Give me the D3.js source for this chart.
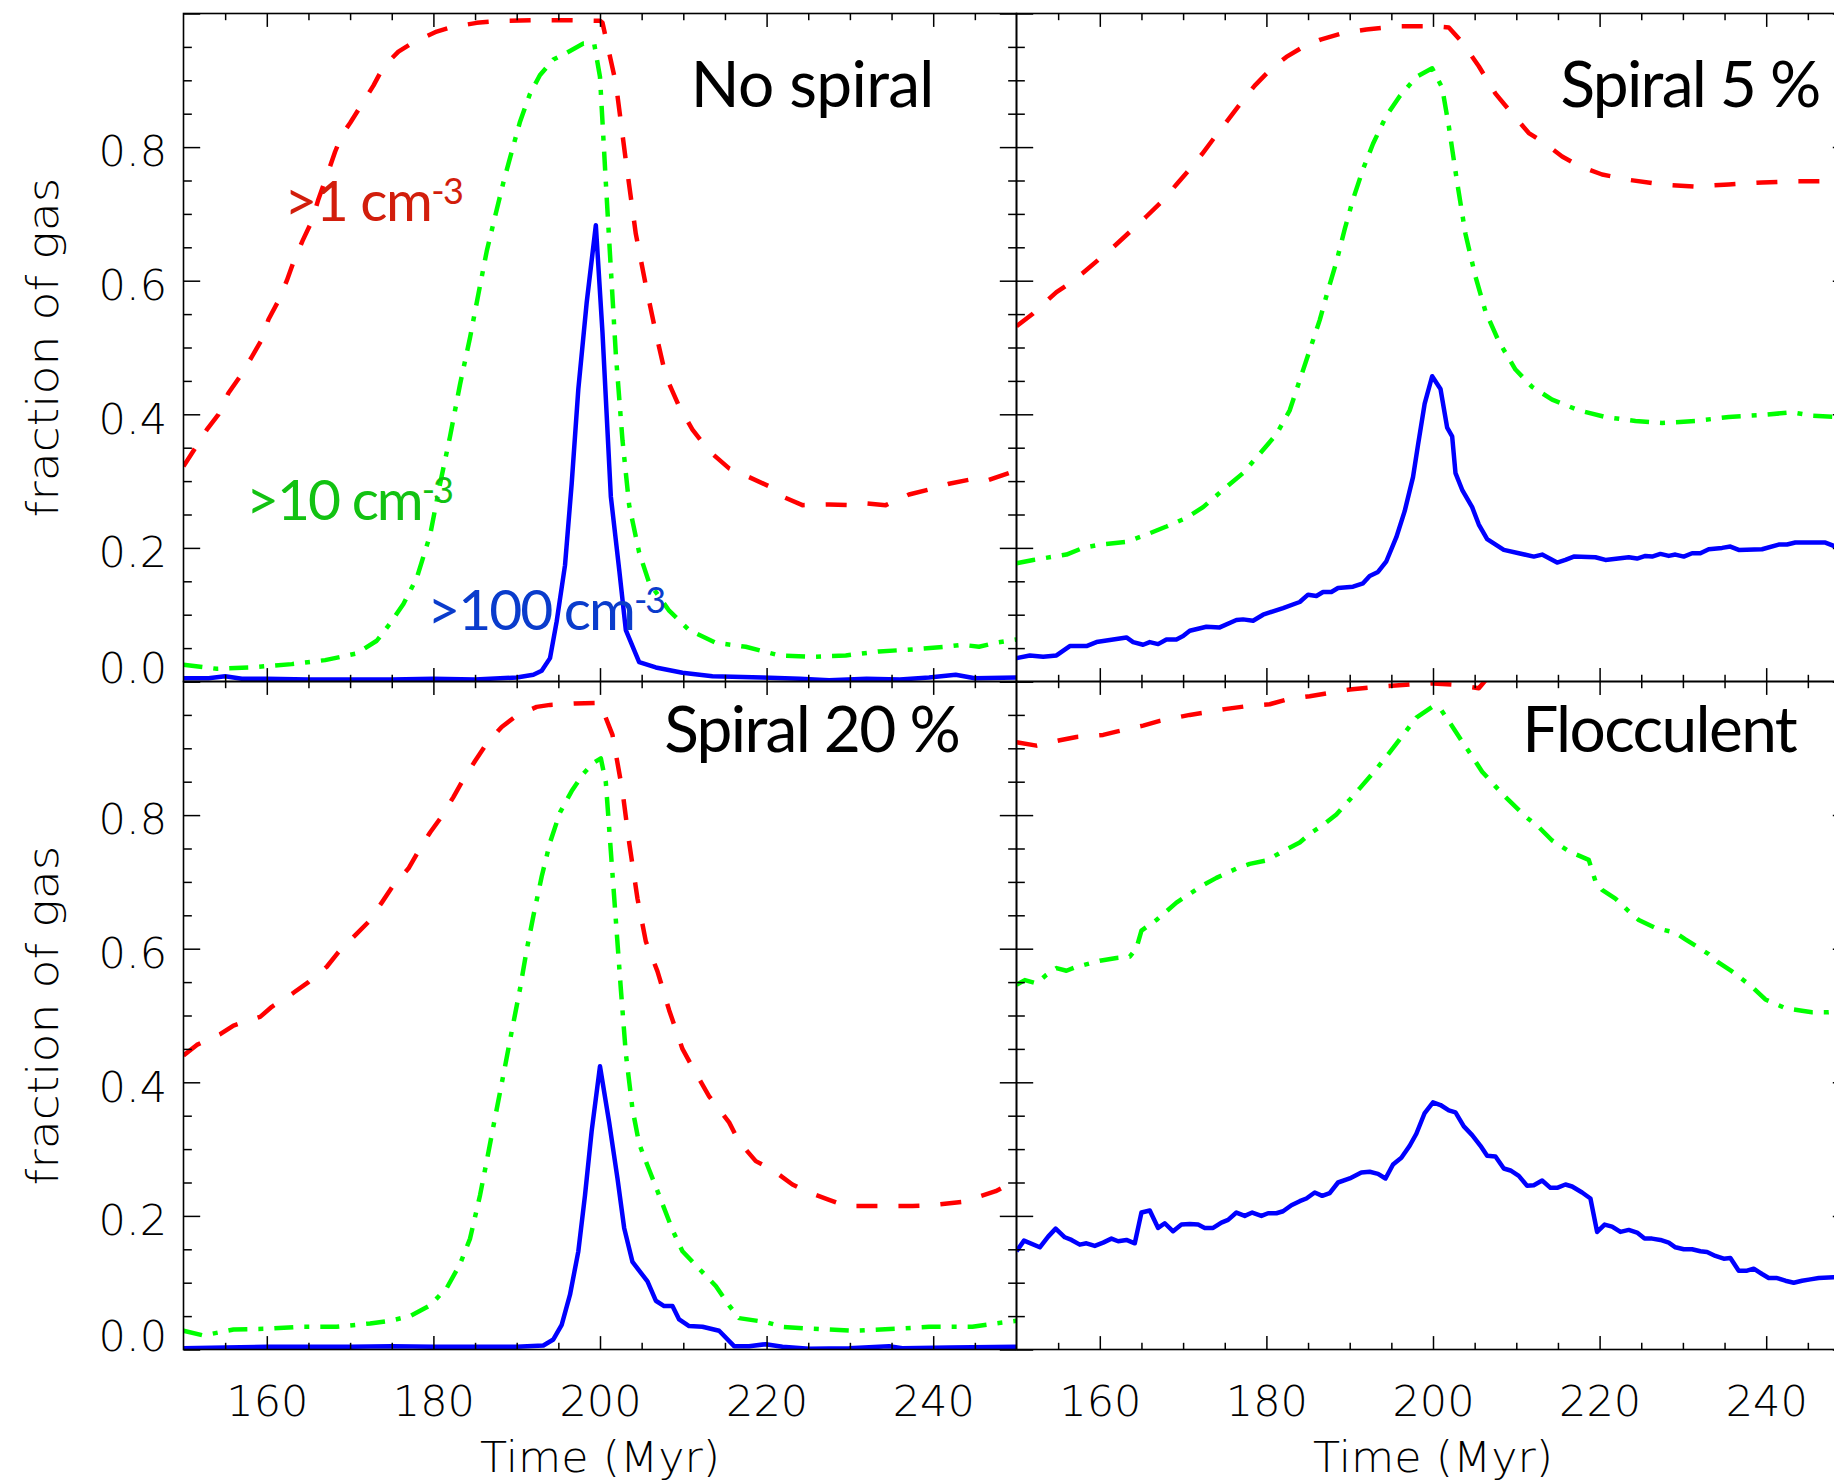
<!DOCTYPE html>
<html><head><meta charset="utf-8">
<script src="https://cdn.jsdelivr.net/npm/d3@7"></script>
<style>
html,body{margin:0;padding:0;background:#fff;overflow:hidden}
</style></head><body>
<svg id="chart" width="1834" height="1484" xmlns="http://www.w3.org/2000/svg"></svg>
<script>
// ---------------- DATA ----------------
const xTickLabels = [160, 180, 200, 220, 240];
const yTickLabels = [0.0, 0.2, 0.4, 0.6, 0.8];
const panelTitles = ["No spiral", "Spiral 5 %", "Spiral 20 %", "Flocculent"];
const thresholdLabels = [">1 cm", ">10 cm", ">100 cm"];
const xAxisTitle = "Time (Myr)";
const yAxisTitle = "fraction of gas";

// [time (Myr), fraction]
const noSpiral_gt1 = [[150,0.322],[152.8,0.377],[154.2,0.40],[155.4,0.432],[156.8,0.457],[158.2,0.486],[159.4,0.512],[160.2,0.542],[161.4,0.570],[162.4,0.600],[163.2,0.628],[164.3,0.660],[165.4,0.689],[166.2,0.722],[167.2,0.757],[168.2,0.793],[169,0.818],[170,0.836],[171.2,0.86],[172.8,0.892],[174,0.92],[175.8,0.943],[177.6,0.957],[180.4,0.973],[182,0.979],[185.2,0.986],[188,0.989],[192,0.99],[196,0.99],[200,0.989],[200.3,0.986],[201.9,0.896],[203.1,0.78],[204.3,0.67],[205.5,0.593],[206.7,0.522],[207.9,0.457],[209.5,0.412],[211.1,0.377],[213.1,0.345],[215.5,0.319],[217.9,0.306],[220.7,0.29],[221.9,0.277],[224.3,0.264],[227.5,0.265],[229.9,0.264],[231.5,0.267],[234.3,0.264],[237.1,0.28],[240.3,0.29],[241.9,0.296],[244.7,0.303],[246.3,0.30],[250,0.316]];
const noSpiral_gt10 = [[150,0.025],[154,0.019],[158,0.021],[163,0.026],[167,0.032],[170.8,0.042],[173.2,0.061],[174.8,0.087],[176.4,0.116],[178,0.155],[179.6,0.219],[180.8,0.296],[182,0.367],[183.2,0.445],[184.4,0.515],[185.4,0.58],[186.4,0.644],[187.4,0.696],[188.4,0.747],[189.4,0.793],[190.4,0.838],[191.6,0.88],[192.8,0.908],[194.4,0.931],[196,0.941],[198,0.955],[199.3,0.955],[200,0.905],[200.7,0.747],[201.3,0.618],[201.9,0.49],[202.7,0.361],[203.5,0.264],[204.7,0.193],[205.9,0.148],[208.3,0.106],[210.7,0.077],[213.9,0.058],[217.5,0.052],[221.5,0.039],[225.5,0.037],[229.5,0.039],[233.5,0.045],[237.5,0.048],[241.5,0.052],[243.5,0.055],[245.5,0.052],[247.5,0.058],[250,0.063]];
const noSpiral_gt100 = [[150,0.005],[153,0.005],[155,0.008],[157,0.004],[160,0.004],[165,0.003],[170,0.003],[175,0.003],[180,0.004],[185,0.003],[190,0.006],[192,0.01],[193,0.016],[194,0.035],[194.8,0.09],[195.8,0.174],[196.6,0.296],[197.4,0.438],[198.4,0.567],[199.5,0.683],[200.3,0.522],[201.3,0.277],[202.3,0.168],[203.1,0.077],[204.7,0.029],[206.7,0.021],[209.9,0.013],[213.5,0.008],[219.5,0.006],[224,0.004],[227.5,0.002],[232,0.004],[236,0.003],[239.5,0.006],[242.7,0.01],[245,0.005],[250,0.006]];

const spiral5_gt1 = [[150,0.532],[152,0.551],[154.8,0.583],[156,0.593],[158,0.612],[159.8,0.631],[161.6,0.65],[163.6,0.673],[165.5,0.695],[167.4,0.718],[169.2,0.744],[170.8,0.767],[172.3,0.79],[173.8,0.815],[175.6,0.844],[177,0.867],[178.6,0.892],[180.4,0.915],[182.4,0.935],[184.4,0.95],[186.5,0.961],[189,0.97],[192,0.976],[196,0.981],[200,0.981],[201.9,0.979],[203.5,0.957],[205.5,0.921],[207.5,0.88],[209.5,0.85],[211.5,0.821],[213.5,0.805],[215.5,0.786],[217.5,0.772],[220.3,0.759],[223.5,0.751],[227.5,0.744],[231.5,0.741],[235.5,0.744],[239.5,0.747],[243.5,0.749],[248,0.749],[250,0.747]];
const spiral5_gt10 = [[150,0.177],[152,0.182],[156,0.19],[158,0.2],[160,0.205],[163.2,0.209],[165.2,0.218],[168,0.232],[170.4,0.245],[172.4,0.261],[174.8,0.287],[177.2,0.312],[179.2,0.341],[181.2,0.37],[182.8,0.406],[184,0.451],[185.2,0.496],[186.4,0.541],[187.4,0.586],[188.4,0.628],[189.4,0.677],[190.4,0.722],[191.6,0.767],[192.8,0.805],[194.4,0.847],[196,0.876],[198,0.905],[199.9,0.918],[201.1,0.889],[201.9,0.831],[202.9,0.747],[203.9,0.67],[205.1,0.606],[206.3,0.554],[207.9,0.509],[209.9,0.467],[211.9,0.441],[214.3,0.422],[217.5,0.406],[220.7,0.396],[224.3,0.39],[227.5,0.387],[231.5,0.39],[235.5,0.396],[239.5,0.399],[243.1,0.403],[245.5,0.398],[250,0.395]];
const spiral5_gt100 = [[150,0.035],[151.6,0.039],[153.2,0.037],[154.8,0.039],[156.4,0.053],[158.4,0.053],[159.6,0.059],[161.2,0.062],[163.2,0.066],[164,0.059],[165.2,0.055],[166,0.059],[167,0.056],[168,0.063],[169.2,0.063],[170,0.068],[170.8,0.076],[172.8,0.082],[174.4,0.081],[176.4,0.092],[177.2,0.093],[178.4,0.091],[179.6,0.1],[182,0.11],[184,0.119],[185,0.13],[186,0.128],[186.8,0.134],[187.8,0.134],[188.6,0.14],[190.4,0.142],[191.6,0.147],[192.4,0.158],[193.4,0.164],[194.4,0.18],[195.6,0.216],[196.6,0.255],[197.6,0.306],[198.2,0.354],[199,0.416],[199.9,0.457],[200.9,0.438],[201.7,0.38],[202.3,0.367],[202.7,0.312],[203.5,0.287],[204.7,0.261],[205.5,0.235],[206.5,0.213],[208.5,0.197],[210.3,0.192],[212.1,0.187],[213.1,0.19],[214.9,0.178],[215.9,0.182],[216.9,0.187],[219.5,0.186],[220.7,0.182],[223.5,0.186],[224.5,0.184],[225.5,0.188],[226.3,0.187],[227.3,0.191],[228.3,0.188],[229.1,0.19],[230.1,0.187],[231.1,0.192],[232.1,0.192],[233.1,0.198],[234.7,0.2],[235.7,0.202],[236.7,0.197],[239.5,0.198],[241.5,0.205],[242.5,0.205],[243.5,0.208],[245.1,0.208],[247.1,0.208],[248.1,0.203],[250,0.2]];

const spiral20_gt1 = [[150,0.44],[151.6,0.456],[154.4,0.472],[156,0.485],[159.2,0.498],[160.6,0.513],[163.2,0.534],[165,0.55],[167.2,0.573],[168.6,0.595],[170.6,0.62],[172.2,0.64],[173.8,0.669],[175.2,0.695],[177,0.72],[178.2,0.746],[179.6,0.774],[181,0.798],[182.4,0.827],[183.4,0.849],[185,0.881],[186.4,0.907],[188.2,0.932],[190,0.949],[192.4,0.962],[194,0.965],[197,0.967],[200,0.968],[201.5,0.92],[202.7,0.836],[203.5,0.759],[204.5,0.675],[205.5,0.611],[206.9,0.566],[208.3,0.508],[209.9,0.45],[211.3,0.418],[213.1,0.379],[215.5,0.34],[216.7,0.311],[218.7,0.282],[220.7,0.269],[223.1,0.247],[224.7,0.237],[227.5,0.224],[229.5,0.215],[233.5,0.215],[237.5,0.215],[239.9,0.216],[243.5,0.221],[247.5,0.237],[250,0.253]];
const spiral20_gt10 = [[150,0.028],[152.4,0.021],[156,0.03],[160,0.031],[164,0.034],[168.4,0.034],[172.4,0.039],[174.8,0.043],[177.2,0.05],[179.6,0.066],[181.6,0.092],[183.2,0.128],[184.4,0.166],[185.6,0.231],[186.4,0.282],[187.4,0.347],[188.4,0.411],[189.4,0.476],[190.4,0.54],[191.2,0.598],[192,0.649],[193,0.708],[194,0.759],[195.2,0.804],[196.6,0.836],[198,0.862],[199.2,0.878],[200.1,0.885],[200.7,0.849],[201.3,0.746],[201.9,0.643],[202.5,0.54],[203.1,0.443],[203.9,0.36],[204.7,0.308],[205.9,0.269],[207.5,0.218],[208.7,0.179],[209.9,0.147],[211.9,0.121],[213.9,0.095],[215.5,0.066],[216.7,0.047],[219.9,0.041],[221.9,0.034],[225.5,0.031],[230.7,0.028],[235.5,0.031],[239.5,0.034],[244.7,0.034],[247.5,0.039],[250,0.043]];
const spiral20_gt100 = [[150,0.002],[155,0.003],[160,0.004],[165,0.004],[170,0.004],[175,0.005],[180,0.004],[185,0.004],[190,0.004],[193.2,0.006],[194.4,0.015],[195.4,0.037],[196.4,0.082],[197.4,0.147],[198.2,0.231],[199,0.327],[200,0.424],[201.1,0.34],[202.1,0.256],[202.9,0.182],[203.9,0.131],[205.7,0.102],[206.7,0.073],[207.7,0.065],[208.7,0.065],[209.5,0.045],[210.7,0.035],[212.3,0.034],[214.3,0.028],[216.1,0.005],[217.9,0.005],[219.9,0.008],[221.9,0.004],[225.1,0.001],[229.9,0.002],[234.7,0.005],[236.3,0.002],[242,0.003],[250,0.004]];

const flocculent_gt1 = [[150,0.909],[152.4,0.904],[155.2,0.912],[157.2,0.917],[160.4,0.92],[162,0.925],[165.2,0.934],[167.2,0.941],[170.8,0.95],[172.4,0.953],[175.2,0.959],[177.6,0.963],[180.4,0.966],[182.4,0.973],[185.2,0.978],[187.6,0.983],[190,0.988],[193.2,0.992],[197.6,0.996],[200,0.997],[202.7,0.995],[205.5,0.99],[207,1.012],[210,1.02]];
const flocculent_gt10 = [[150,0.546],[151,0.553],[152.4,0.548],[153.6,0.561],[154.8,0.571],[156,0.567],[157,0.572],[160,0.582],[162,0.586],[163.6,0.588],[164.4,0.601],[165,0.627],[166.8,0.643],[169.2,0.669],[170.8,0.682],[172.4,0.695],[174,0.706],[176.4,0.72],[178,0.727],[180,0.732],[182,0.746],[184,0.759],[185.2,0.772],[186.8,0.785],[188.4,0.801],[190,0.823],[191.2,0.84],[193.2,0.869],[194.8,0.894],[196.4,0.92],[198,0.946],[199.9,0.962],[200.9,0.959],[202.3,0.933],[203.5,0.91],[204.7,0.888],[205.9,0.865],[207.5,0.843],[208.7,0.827],[211.1,0.798],[212.7,0.782],[214.3,0.762],[216.3,0.746],[218.7,0.733],[219.5,0.701],[220.3,0.688],[221.9,0.675],[223.5,0.656],[224.7,0.643],[226.7,0.631],[229.1,0.624],[230.3,0.614],[233.1,0.592],[234.3,0.579],[235.9,0.566],[238.3,0.543],[239.9,0.524],[242.3,0.511],[243.9,0.508],[245.5,0.505],[247.5,0.505],[250,0.508]];
const flocculent_gt100 = [[150,0.147],[150.9,0.163],[152.8,0.153],[153.8,0.169],[154.7,0.181],[155.8,0.168],[156.6,0.164],[157.6,0.157],[158.4,0.159],[159.4,0.155],[160.4,0.16],[161.4,0.166],[162.2,0.162],[163.2,0.164],[164.2,0.159],[165,0.205],[166,0.208],[167,0.182],[167.8,0.189],[168.8,0.177],[169.8,0.187],[170.8,0.188],[171.8,0.187],[172.6,0.182],[173.6,0.182],[174.6,0.19],[175.4,0.194],[176.4,0.205],[177.4,0.2],[178.3,0.205],[179.4,0.2],[180.2,0.204],[181.2,0.204],[182,0.207],[183,0.216],[184,0.222],[184.8,0.226],[185.8,0.235],[186.7,0.23],[187.6,0.234],[188.6,0.25],[190,0.256],[191.4,0.265],[192.4,0.266],[193.4,0.263],[194.3,0.256],[195.2,0.277],[196.2,0.287],[197.2,0.305],[198,0.323],[199,0.354],[200,0.37],[200.9,0.366],[201.9,0.358],[202.7,0.355],[203.7,0.334],[204.7,0.321],[205.7,0.305],[206.5,0.29],[207.5,0.289],[208.5,0.271],[209.3,0.268],[210.3,0.26],[211.3,0.245],[212.1,0.246],[213.1,0.253],[214.1,0.242],[214.9,0.242],[215.9,0.247],[216.7,0.244],[217.9,0.235],[218.9,0.226],[219.7,0.176],[220.6,0.187],[221.5,0.184],[222.5,0.176],[223.5,0.179],[224.5,0.175],[225.4,0.166],[226.3,0.166],[227.3,0.164],[228.3,0.16],[229.1,0.153],[230.1,0.15],[231.1,0.15],[232.1,0.147],[232.9,0.146],[233.9,0.14],[234.9,0.136],[235.7,0.137],[236.7,0.118],[237.7,0.118],[238.5,0.121],[239.5,0.113],[240.3,0.107],[241.3,0.107],[242.3,0.103],[243.3,0.1],[244.3,0.103],[245.3,0.105],[246.3,0.107],[248.1,0.108],[250,0.108]];

// ---------------- LAYOUT / STYLE ----------------
const W = 1834, H = 1484;
const plotLeft = 183.5, plotTop = 13.5, panelW = 833, panelH = 668;
const seriesStyles = [
  {color: "#ff0000", dash: "21,21"},
  {color: "#00ff00", dash: "19,11,5,11"},
  {color: "#0000ff", dash: null}
];
const panelSeries = [
  [noSpiral_gt1, noSpiral_gt10, noSpiral_gt100],
  [spiral5_gt1, spiral5_gt10, spiral5_gt100],
  [spiral20_gt1, spiral20_gt10, spiral20_gt100],
  [flocculent_gt1, flocculent_gt10, flocculent_gt100]
];
// title anchor (data coords) and target width in px
const titleLayout = [
  {t: 210.9, v: 0.860, w: 243},
  {t: 215.3, v: 0.860, w: 259},
  {t: 207.7, v: 0.894, w: 295},
  {t: 210.7, v: 0.894, w: 274}
];
const annotationLayout = [
  {t: 162.1, v: 0.689, w: 178, color: "#d21e0c"},
  {t: 157.5, v: 0.2418, w: 206, color: "#12c212"},
  {t: 179.25, v: 0.077, w: 237, color: "#0a3ccc"}
];
const tickFont = "'DejaVu Sans', sans-serif";
const titleFont = "Lato, 'Open Sans', sans-serif";

const svg = d3.select("#chart");
svg.append("rect").attr("width", W).attr("height", H).attr("fill", "#fff");

const x = d3.scaleLinear().domain([150, 250]).range([0, panelW]);
const y = d3.scaleLinear().domain([0, 1]).range([panelH, 0]);
const line = d3.line().x(d => x(d[0])).y(d => y(d[1]));

const majorX = xTickLabels;
const minorX = d3.range(155, 250, 5).filter(v => !majorX.includes(v));
const majorY = [0, 0.2, 0.4, 0.6, 0.8, 1.0];
const minorY = d3.range(1, 20).map(i => i * 0.05).filter(v => Math.abs(Math.round(v * 5) - v * 5) > 1e-6);
const tickLenVX = 13.4, tickLenHY = 16.7;

function styleAxis(sel) {
  sel.select(".domain").remove();
  sel.attr("font-family", tickFont).attr("font-size", 43).attr("font-weight", 200);
  sel.selectAll(".tick line").attr("stroke", "#000").attr("stroke-width", 1.5);
  sel.selectAll(".tick text").attr("fill", "#000");
}
// fit a text to a target width by adjusting letter spacing (keeps glyph shapes)
function fitWidth(textSel, target) {
  const node = textSel.node();
  const n = node.textContent.length;
  const L = node.getComputedTextLength();
  textSel.attr("letter-spacing", ((target - L) / n).toFixed(2));
}

panelSeries.forEach((series, i) => {
  const col = i % 2, row = Math.floor(i / 2);
  const g = svg.append("g").attr("transform", `translate(${plotLeft + col * panelW},${plotTop + row * panelH})`);

  const clipId = "clip" + i;
  g.append("clipPath").attr("id", clipId).append("rect").attr("width", panelW).attr("height", panelH);

  // lines
  const lg = g.append("g").attr("clip-path", `url(#${clipId})`);
  series.forEach((s, k) => {
    const st = seriesStyles[k];
    lg.append("path").datum(s).attr("d", line)
      .attr("fill", "none").attr("stroke", st.color).attr("stroke-width", 4.5)
      .attr("stroke-linejoin", "round")
      .attr("stroke-dasharray", st.dash);
  });

  // axes (inward ticks on all four sides)
  const bottom = g.append("g").attr("transform", `translate(0,${panelH})`)
    .call(d3.axisBottom(x).tickValues(majorX).tickSizeInner(-tickLenVX).tickSizeOuter(0).tickPadding(36)
      .tickFormat(row === 1 ? d3.format("d") : () => ""));
  styleAxis(bottom);
  styleAxis(g.append("g").attr("transform", `translate(0,${panelH})`)
    .call(d3.axisBottom(x).tickValues(minorX).tickSizeInner(-tickLenVX / 2).tickSizeOuter(0).tickFormat(() => "")));
  styleAxis(g.append("g").call(d3.axisTop(x).tickValues(majorX).tickSizeInner(-tickLenVX).tickSizeOuter(0).tickFormat(() => "")));
  styleAxis(g.append("g").call(d3.axisTop(x).tickValues(minorX).tickSizeInner(-tickLenVX / 2).tickSizeOuter(0).tickFormat(() => "")));

  const left = g.append("g")
    .call(d3.axisLeft(y).tickValues(majorY).tickSizeInner(-tickLenHY).tickSizeOuter(0).tickPadding(16.5)
      .tickFormat(v => (col === 0 && yTickLabels.some(t => Math.abs(t - v) < 1e-9)) ? d3.format(".1f")(v) : ""));
  styleAxis(left);
  left.selectAll(".tick text").attr("dy", v => v === 0 ? "0.02em" : "0.435em");
  styleAxis(g.append("g").call(d3.axisLeft(y).tickValues(minorY).tickSizeInner(-tickLenHY / 2).tickSizeOuter(0).tickFormat(() => "")));
  styleAxis(g.append("g").attr("transform", `translate(${panelW},0)`)
    .call(d3.axisRight(y).tickValues(majorY).tickSizeInner(-tickLenHY).tickSizeOuter(0).tickFormat(() => "")));
  styleAxis(g.append("g").attr("transform", `translate(${panelW},0)`)
    .call(d3.axisRight(y).tickValues(minorY).tickSizeInner(-tickLenHY / 2).tickSizeOuter(0).tickFormat(() => "")));

  // frame
  g.append("rect").attr("width", panelW).attr("height", panelH)
    .attr("fill", "none").attr("stroke", "#000").attr("stroke-width", 1.6);

  // title
  const tl = titleLayout[i];
  const title = g.append("text").text(panelTitles[i])
    .attr("x", x(tl.t)).attr("y", y(tl.v))
    .attr("font-family", titleFont).attr("font-size", 64).attr("fill", "#000");
  fitWidth(title, tl.w);

  // axis titles
  if (row === 1) {
    g.append("text").text(xAxisTitle)
      .attr("x", panelW / 2).attr("y", panelH + 122.5)
      .attr("text-anchor", "middle")
      .attr("font-family", tickFont).attr("font-weight", 200).attr("font-size", 43).attr("fill", "#000")
      .attr("textLength", 240).attr("lengthAdjust", "spacingAndGlyphs");
  }
  if (col === 0) {
    g.append("text").text(yAxisTitle)
      .attr("transform", `translate(${58 - plotLeft},${panelH / 2}) rotate(-90)`)
      .attr("text-anchor", "middle")
      .attr("font-family", tickFont).attr("font-weight", 200).attr("font-size", 43).attr("fill", "#000")
      .attr("textLength", 340).attr("lengthAdjust", "spacingAndGlyphs");
  }

  // threshold annotations (first panel only)
  if (i === 0) {
    thresholdLabels.forEach((lab, k) => {
      const a = annotationLayout[k];
      const t = g.append("text")
        .attr("x", x(a.t)).attr("y", y(a.v))
        .attr("font-family", titleFont).attr("font-size", 57).attr("fill", a.color);
      t.append("tspan").text(lab);
      t.append("tspan").text("-3").attr("font-size", 36).attr("dy", -17);
      fitWidth(t, a.w);
    });
  }
});
</script>
</body></html>
